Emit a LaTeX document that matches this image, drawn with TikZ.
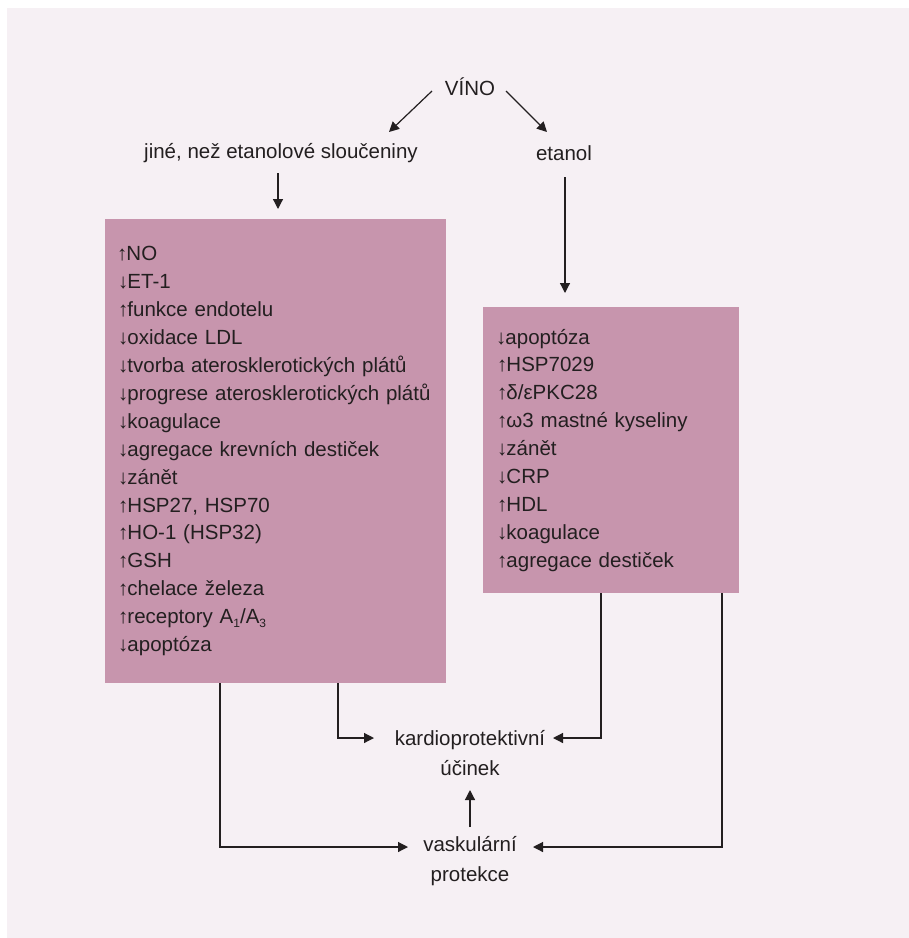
\documentclass[tikz,border=0pt]{standalone}
\usepackage{fontspec}
\setmainfont{Liberation Sans}
\usetikzlibrary{arrows.meta}
\definecolor{panel}{RGB}{246,240,244}
\definecolor{boxfill}{RGB}{199,149,173}
\definecolor{ink}{RGB}{35,31,32}
\newcommand{\up}{\kern-1pt↑\kern-1pt}
\newcommand{\dn}{\kern-1pt↓\kern-1pt}
\begin{document}
\begin{tikzpicture}[x=1pt,y=-1pt,
  every node/.style={text=ink},
  lbl/.style={font=\fontsize{20.5}{30}\selectfont, inner sep=0pt, align=center},
  listbox/.style={fill=boxfill, draw=none, anchor=north west, align=left,
    font=\fontsize{20.5}{28.9}\selectfont, inner ysep=0pt},
  conn/.style={draw=ink, line width=1.2pt},
  arr/.style={conn, -{Triangle[length=10pt,width=10pt]}}]
\useasboundingbox (0,0) rectangle (909,938);
\fill[white] (0,0) rectangle (909,938);
\fill[panel] (7,8) rectangle (909,938);

\node[lbl] (vino) at (470,87) {VÍNO};
\node[lbl] (jine) at (281,153) {jiné, než etanolové sloučeniny};
\node[lbl] (etanol) at (564,153) {etanol};

\node[listbox, minimum width=341pt, minimum height=464pt, text width=315pt, inner xsep=13pt] (lbox) at (105,219)
{\up NO\\
\dn ET-1\\
\up funkce endotelu\\
\dn oxidace LDL\\
\dn tvorba aterosklerotických plátů\\
\dn progrese aterosklerotických plátů\\
\dn koagulace\\
\dn agregace krevních destiček\\
\dn zánět\\
\up HSP27, HSP70\\
\up HO-1 (HSP32)\\
\up GSH\\
\up chelace železa\\
\up receptory A\raisebox{-4pt}{\fontsize{12}{12}\selectfont 1}/A\raisebox{-4pt}{\fontsize{12}{12}\selectfont 3}\\
\dn apoptóza};

\node[listbox, minimum width=256pt, minimum height=286pt, text width=228pt, inner xsep=14pt] (rbox) at (483,307)
{\dn apoptóza\\
\up HSP7029\\
\up δ/εPKC28\\
\up ω3 mastné kyseliny\\
\dn zánět\\
\dn CRP\\
\up HDL\\
\dn koagulace\\
\up agregace destiček};

\node[lbl] (kardio) at (470,753) {kardioprotektivní\\účinek};
\node[lbl] (vask) at (470,861) {vaskulární\\protekce};

% named connector ends
\coordinate (v1) at (432,91);
\coordinate (j1) at (389,132);
\coordinate (v2) at (506,91);
\coordinate (e1) at (547,132);
\coordinate (j2) at (278,173);
\coordinate (lt) at (278,209);
\coordinate (e2) at (565,177);
\coordinate (rt) at (565,293);
\coordinate (kL) at (374,738);
\coordinate (kR) at (553,738);
\coordinate (kB) at (470,790);
\coordinate (vT) at (470,827);
\coordinate (vL) at (408,847);
\coordinate (vR) at (533,847);

\draw[arr] (v1) -- (j1);
\draw[arr] (v2) -- (e1);
\draw[arr] (j2) -- (lt);
\draw[arr] (e2) -- (rt);
\draw[arr] (lbox.south -| 338,0) |- (kL);
\draw[arr] (rbox.south -| 601,0) |- (kR);
\draw[arr] (lbox.south -| 220,0) |- (vL);
\draw[arr] (rbox.south -| 722,0) |- (vR);
\draw[arr] (vT) -- (kB);
\end{tikzpicture}
\end{document}
